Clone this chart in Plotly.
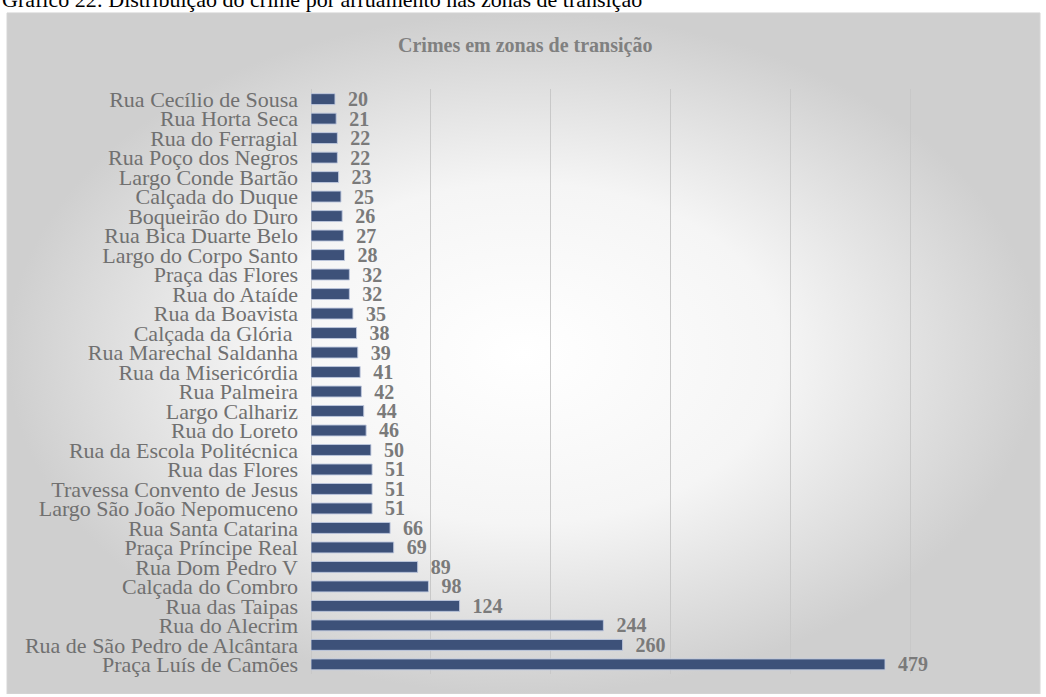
import plotly.graph_objects as go

categories = [
    "Rua Cecílio de Sousa", "Rua Horta Seca", "Rua do Ferragial", "Rua Poço dos Negros",
    "Largo Conde Bartão", "Calçada do Duque", "Boqueirão do Duro", "Rua Bica Duarte Belo",
    "Largo do Corpo Santo", "Praça das Flores", "Rua do Ataíde", "Rua da Boavista",
    "Calçada da Glória ", "Rua Marechal Saldanha", "Rua da Misericórdia", "Rua Palmeira",
    "Largo Calhariz", "Rua do Loreto", "Rua da Escola Politécnica", "Rua das Flores",
    "Travessa Convento de Jesus", "Largo São João Nepomuceno", "Rua Santa Catarina",
    "Praça Príncipe Real", "Rua Dom Pedro V", "Calçada do Combro", "Rua das Taipas",
    "Rua do Alecrim", "Rua de São Pedro de Alcântara", "Praça Luís de Camões",
]
crimes = [20, 21, 22, 22, 23, 25, 26, 27, 28, 32, 32, 35, 38, 39, 41, 42, 44, 46,
          50, 51, 51, 51, 66, 69, 89, 98, 124, 244, 260, 479]
x_ticks = [0, 100, 200, 300, 400, 500, 600]

W, H = 1046, 697
SERIF = "Liberation Serif, Times New Roman, serif"

fig = go.Figure()

# background panel with radial gradient (decoration)
bx0, bx1 = 7 / W, 1040 / W
by0, by1 = 0.0, 1 - 11 / H
fig.add_trace(go.Scatter(
    x=[bx0, bx1, bx1, bx0, bx0], y=[by0, by0, by1, by1, by0],
    xaxis="x", yaxis="y", mode="lines", fill="toself",
    line=dict(color="#d6d6d6", width=1),
    fillgradient=dict(type="radial", colorscale=[[0, "#ffffff"], [0.5, "#f5f5f5"], [1, "#cfcfcf"]]),
    hoverinfo="skip", showlegend=False,
))

fig.add_trace(go.Bar(
    y=categories, x=crimes, orientation="h", xaxis="x2", yaxis="y2",
    marker=dict(color="#3d5179", line=dict(color="rgba(190,200,222,0.9)", width=1)),
    text=crimes, texttemplate="\u00a0\u00a0<b>%{x}</b>", textposition="outside",
    constraintext="none",
    textfont=dict(family=SERIF, size=20, color="#7a7a7a"),
    cliponaxis=False, showlegend=False, hoverinfo="skip",
))

fig.update_layout(
    width=W, height=H,
    margin=dict(l=0, r=0, t=0, b=0),
    paper_bgcolor="white", plot_bgcolor="rgba(0,0,0,0)",
    bargap=0.44,
    xaxis=dict(domain=[0, 1], range=[0, 1], visible=False, fixedrange=True),
    yaxis=dict(domain=[0, 1], range=[0, 1], visible=False, fixedrange=True),
    xaxis2=dict(domain=[311 / W, 1030 / W], anchor="y2", range=[0, 600],
                tickvals=x_ticks, showticklabels=False, showgrid=True,
                gridcolor="#c8c8c8", gridwidth=1, zeroline=True, zerolinecolor="#c8c8c8",
                zerolinewidth=1, showline=False, fixedrange=True),
    yaxis2=dict(domain=[1 - 677 / H, 1 - 88 / H], anchor="x2", autorange="reversed",
                tickmode="array", tickvals=categories, ticktext=categories,
                tickfont=dict(family=SERIF, size=22, color="#707070"),
                ticklabelstandoff=12, showgrid=False, fixedrange=True),
    annotations=[
        dict(text="<b>Crimes em zonas de transição</b>", xref="paper", yref="paper",
             x=525 / W, y=1 - 44 / H, showarrow=False, xanchor="center", yanchor="middle",
             font=dict(family=SERIF, size=20, color="#808080")),
        dict(text="Gráfico 22: Distribuição do crime por arruamento nas zonas de transição",
             xref="paper", yref="paper", x=0, y=1 + 3 / H, showarrow=False,
             xanchor="left", yanchor="middle",
             font=dict(family=SERIF, size=22, color="#000000")),
    ],
)

fig.write_html("out.html", config={"displayModeBar": False},
               post_script="document.body.style.margin='0';document.body.style.overflow='hidden';")
